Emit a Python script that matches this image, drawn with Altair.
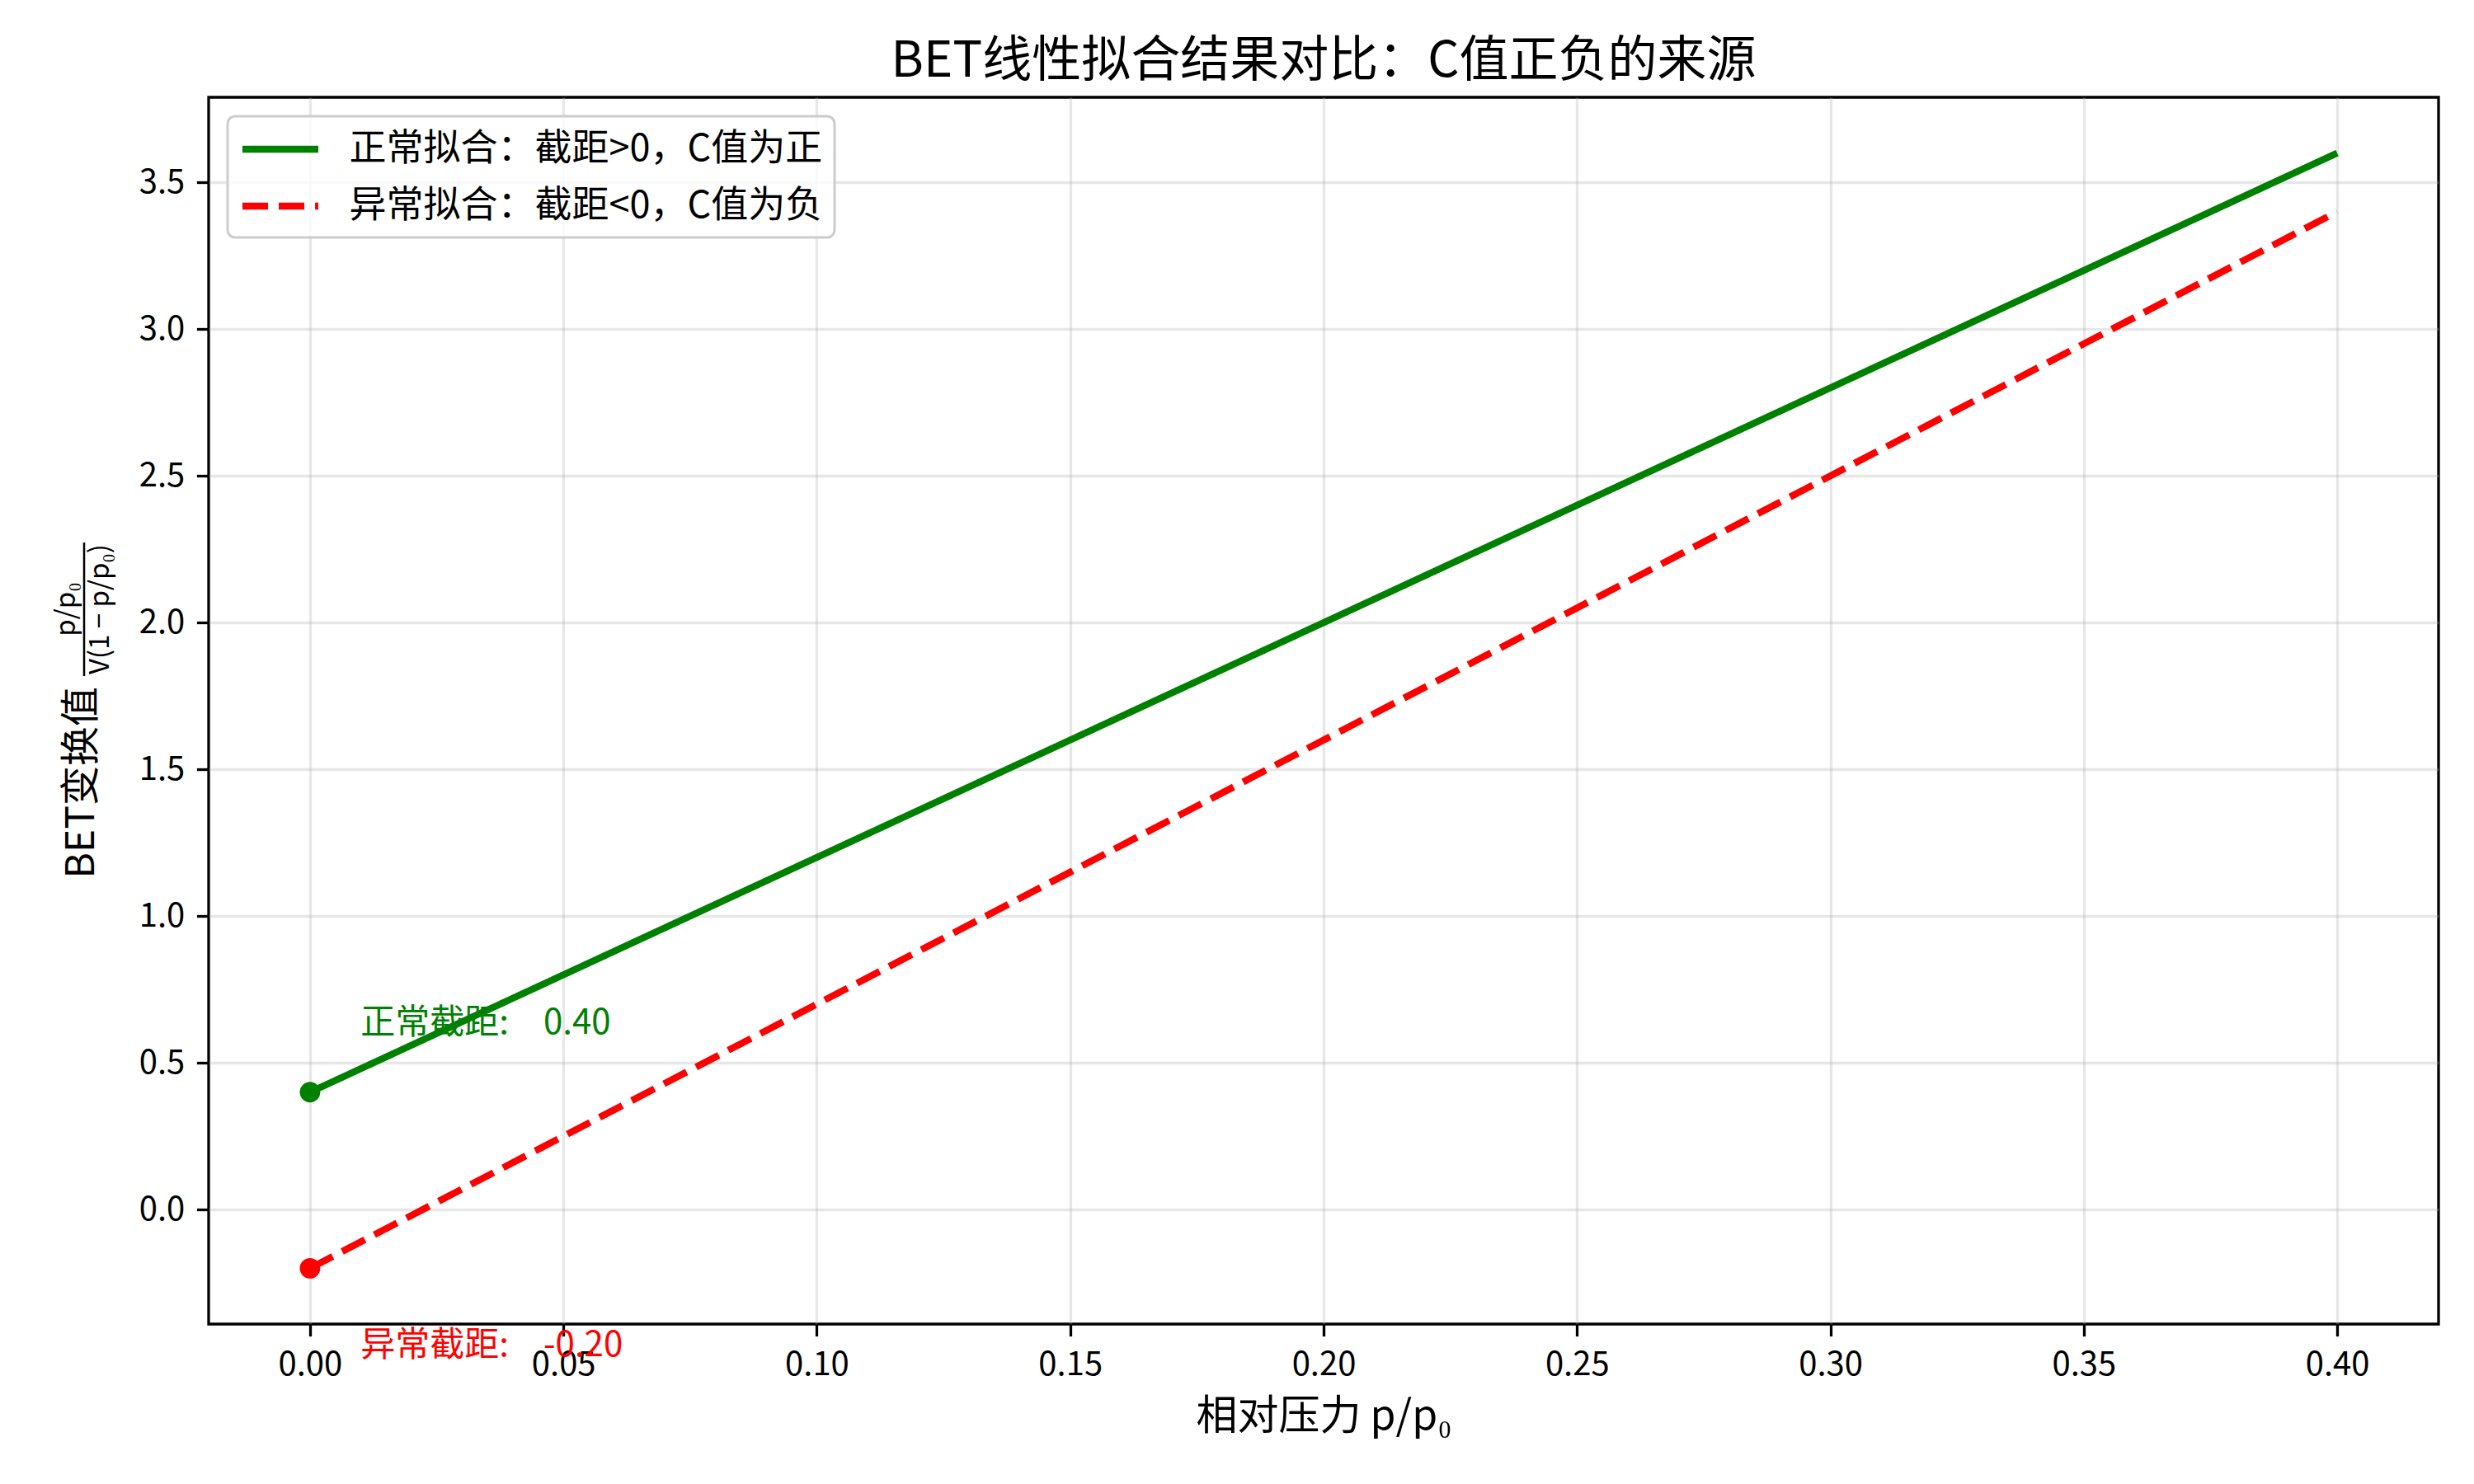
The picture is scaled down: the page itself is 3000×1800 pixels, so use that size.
import altair as alt
import pandas as pd

FONT = "Noto Sans CJK SC"

# ---- data ----
x_ends = [0.0, 0.4]
normal_fit = [0.4, 3.6]
abnormal_fit = [-0.2, 3.4]
series_names = ["正常拟合：截距>0，C值为正", "异常拟合：截距<0，C值为负"]
series_colors = ["#008000", "#ff0000"]
intercept_x = [0.0, 0.0]
intercepts = [0.4, -0.2]
annot_text = ["正常截距:\u20030.40", "异常截距:\u2003-0.20"]
annot_x = [0.01, 0.01]
annot_y = [0.6, -0.5]
x_ticks = [0.0, 0.05, 0.1, 0.15, 0.2, 0.25, 0.3, 0.35, 0.4]
y_ticks = [0.0, 0.5, 1.0, 1.5, 2.0, 2.5, 3.0, 3.5]
x_domain = [-0.02, 0.42]
y_domain = [-0.39, 3.79]

title_text = "BET线性拟合结果对比：C值正负的来源"
x_title = "相对压力 p/p₀"
y_title_main = "BET变换值"
y_title_num = "p/p₀"
y_title_den = "V(1 − p/p₀)"

# ---- tables ----
rows = []
for name, ys in zip(series_names, [normal_fit, abnormal_fit]):
    for xv, yv in zip(x_ends, ys):
        rows.append({"x": xv, "y": yv, "series": name})
lines_df = pd.DataFrame(rows)
points_df = pd.DataFrame({"x": intercept_x, "y": intercepts, "c": series_colors})
annot_df = pd.DataFrame({"x": annot_x, "y": annot_y, "t": annot_text, "c": series_colors})
dummy = pd.DataFrame({"a": [0]})

x_enc = alt.X(
    "x:Q",
    scale=alt.Scale(domain=x_domain, nice=False, zero=False),
    axis=alt.Axis(values=x_ticks, format=".2f", title=x_title, titlePadding=18),
)
y_enc = alt.Y(
    "y:Q",
    scale=alt.Scale(domain=y_domain, nice=False, zero=False),
    axis=alt.Axis(values=y_ticks, format=".1f", title=None),
)

lines = alt.Chart(lines_df).mark_line(strokeWidth=8.3).encode(
    x=x_enc,
    y=y_enc,
    color=alt.Color(
        "series:N",
        scale=alt.Scale(domain=series_names, range=series_colors),
        legend=alt.Legend(title=None),
    ),
    strokeDash=alt.StrokeDash(
        "series:N",
        scale=alt.Scale(domain=series_names, range=[[1, 0], [31, 13]]),
        legend=alt.Legend(title=None),
    ),
)

points = alt.Chart(points_df).mark_point(filled=True, shape="circle", size=616, opacity=1).encode(
    x=x_enc,
    y=y_enc,
    fill=alt.Fill("c:N", scale=None),
)

annots = alt.Chart(annot_df).mark_text(
    align="left", baseline="alphabetic", fontSize=42, font=FONT
).encode(
    x=x_enc,
    y=y_enc,
    text="t:N",
    fill=alt.Fill("c:N", scale=None),
)

ylab_main = alt.Chart(dummy).mark_text(
    angle=270, align="right", baseline="middle", fontSize=48, font=FONT, color="black"
).encode(x=alt.value(-153), y=alt.value(715), text=alt.value(y_title_main))

ylab_num = alt.Chart(dummy).mark_text(
    angle=270, align="center", baseline="middle", fontSize=33, font=FONT, color="black"
).encode(x=alt.value(-172), y=alt.value(621), text=alt.value(y_title_num))

ylab_den = alt.Chart(dummy).mark_text(
    angle=270, align="center", baseline="middle", fontSize=33, font=FONT, color="black"
).encode(x=alt.value(-131), y=alt.value(621), text=alt.value(y_title_den))

ylab_bar = alt.Chart(dummy).mark_rule(color="black", strokeWidth=2.5).encode(
    x=alt.value(-151), y=alt.value(540), y2=alt.value(702)
)

chart = (
    alt.layer(lines, points, annots, ylab_main, ylab_num, ylab_den, ylab_bar)
    .properties(
        width=2704,
        height=1488,
        padding={"left": 245, "top": 110, "right": 35, "bottom": 180},
        autosize=alt.AutoSizeParams(type="none"),
        title=alt.TitleParams(
            text=title_text,
            font=FONT,
            fontSize=60,
            fontWeight="normal",
            color="black",
            anchor="middle",
            frame="group",
            offset=12,
        ),
        background="white",
    )
    .configure_view(stroke="black", strokeWidth=3.3)
    .configure_axis(
        domain=False,
        labelFont=FONT,
        labelFontSize=40,
        labelColor="black",
        labelPadding=14.6,
        tickColor="black",
        tickWidth=3.3,
        tickSize=14.6,
        grid=True,
        gridColor="#b0b0b0",
        gridOpacity=0.3,
        gridWidth=3.3,
        titleFont=FONT,
        titleFontSize=50,
        titleFontWeight="normal",
        titleColor="black",
    )
    .configure_legend(
        orient="none",
        legendX=23,
        legendY=23,
        labelFont=FONT,
        labelFontSize=45,
        labelColor="black",
        labelLimit=2000,
        symbolType="M-2.19,0H2.19",
        symbolSize=1764,
        symbolStrokeWidth=8.3,
        symbolOffset=24,
        labelOffset=58,
        padding=14.5,
        rowPadding=20,
        cornerRadius=9,
        strokeColor="#cccccc",
        strokeWidth=3,
        fillColor="rgba(255,255,255,0.8)",
    )
)

chart.save("out.html", embed_options={"renderer": "svg", "actions": False})
